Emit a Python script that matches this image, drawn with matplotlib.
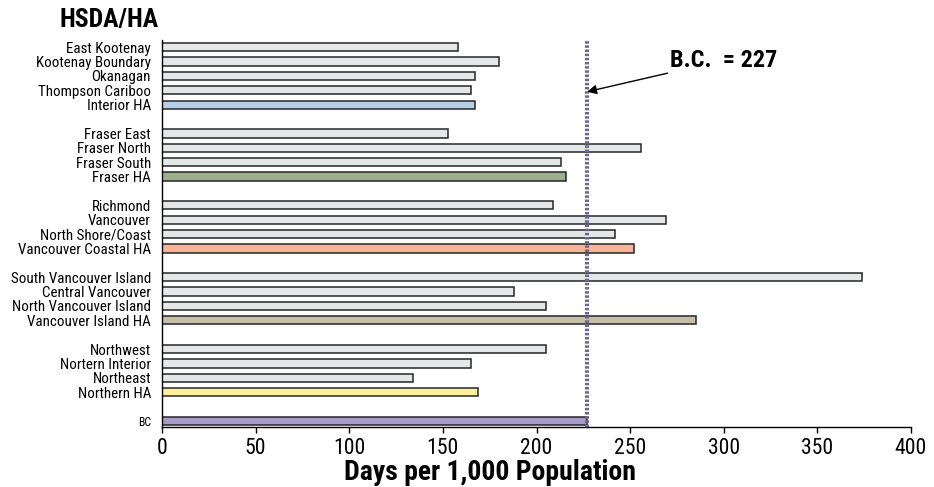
import matplotlib
matplotlib.use("Agg")
import matplotlib.pyplot as plt
from matplotlib import font_manager as fm

labels = ["East Kootenay", "Kootenay Boundary", "Okanagan", "Thompson Cariboo", "Interior HA",
          "Fraser East", "Fraser North", "Fraser South", "Fraser HA",
          "Richmond", "Vancouver", "North Shore/Coast", "Vancouver Coastal HA",
          "South Vancouver Island", "Central Vancouver", "North Vancouver Island", "Vancouver Island HA",
          "Northwest", "Nortern Interior", "Northeast", "Northern HA",
          "BC"]
values = [158, 180, 167, 165, 167,
          153, 256, 213, 216,
          209, 269, 242, 252,
          374, 188, 205, 285,
          205, 165, 134, 169,
          227]
positions = [0, 1, 2, 3, 4,
             6, 7, 8, 9,
             11, 12, 13, 14,
             16, 17, 18, 19,
             21, 22, 23, 24,
             26]
colors = ["#e6e7e8", "#e6e7e8", "#e6e7e8", "#e6e7e8", "#b8cde6",
          "#e6e7e8", "#e6e7e8", "#e6e7e8", "#9cb08e",
          "#e6e7e8", "#e6e7e8", "#e6e7e8", "#f8b499",
          "#e6e7e8", "#e6e7e8", "#e6e7e8", "#c5bea9",
          "#e6e7e8", "#e6e7e8", "#e6e7e8", "#fdf09c",
          "#a89acb"]
bc_value = 227
xticks = [0, 50, 100, 150, 200, 250, 300, 350, 400]

available = set(f.name for f in fm.fontManager.ttflist)
prefs = ["Roboto Condensed", "PT Sans Narrow", "Fira Sans Condensed", "Open Sans Condensed",
         "Barlow Semi Condensed", "Encode Sans Condensed", "Liberation Sans Narrow",
         "Arimo", "Liberation Sans", "DejaVu Sans"]
main = next((p for p in prefs if p in available), "DejaVu Sans")
plt.rcParams['font.family'] = [main, "DejaVu Sans"]

fig = plt.figure(figsize=(9.34, 4.87), dpi=100)
ax = fig.add_axes([162/934, 60/487, 749/934, 387/487])
renderer = fig.canvas.get_renderer()


def fit_size(text, target_px, weight="normal", base=12.0):
    t = fig.text(0, 0, text, fontsize=base, fontweight=weight)
    w = t.get_window_extent(renderer).width
    t.remove()
    return base * target_px / w


lab_fs = fit_size("South Vancouver Island", 140)
tick_fs = fit_size("400", 32)
title_fs = fit_size("HSDA/HA", 99, "bold")
xlab_fs = fit_size("Days per 1,000 Population", 293, "bold")
ann_fs = fit_size("B.C.  = 227", 107, "bold")

ax.barh(positions, values, height=0.58, color=colors, edgecolor="#262626", linewidth=1.1, zorder=2)

ax.set_ylim(26.42, -0.5)
ax.set_xlim(0, 400)
ax.set_yticks(positions)
ax.set_yticklabels(labels, fontsize=lab_fs)
for t in ax.get_yticklabels():
    if t.get_text() == "BC":
        t.set_fontsize(lab_fs * 0.78)
ax.tick_params(axis='y', length=0, pad=8)
ax.set_xticks(xticks)
ax.set_xticklabels([str(v) for v in xticks], fontsize=tick_fs)
ax.tick_params(axis='x', length=4, width=1, pad=4, direction='out')

for s in ["top", "right"]:
    ax.spines[s].set_visible(False)
for s in ["left", "bottom"]:
    ax.spines[s].set_linewidth(1.0)
    ax.spines[s].set_color("black")

ax.axvline(bc_value, color="#6b6990", linewidth=3.0, linestyle=(0, (0.6, 0.4)), zorder=3)

ax.annotate("B.C.  = 227", xy=(bc_value, 3.1), xytext=(271.5, 0.9),
            fontsize=ann_fs, fontweight="bold", va="center", ha="left",
            arrowprops=dict(arrowstyle="-|>", color="black", lw=1.0,
                            mutation_scale=14, shrinkA=0, shrinkB=0),
            zorder=4)

fig.text(59/934, 1 - 20/487, "HSDA/HA", fontsize=title_fs, fontweight="bold", ha="left", va="center")
fig.text(490/934, 1 - 473/487, "Days per 1,000 Population", fontsize=xlab_fs, fontweight="bold",
         ha="center", va="center")

fig.savefig("out.png", dpi=100)
